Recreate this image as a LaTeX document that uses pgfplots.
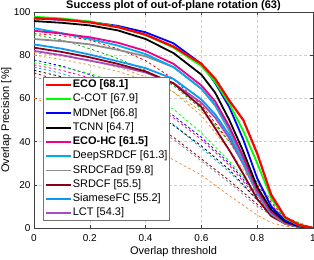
\documentclass[border=0pt]{standalone}
\usepackage{fontspec}
\setmainfont{Liberation Sans}
\usepackage{pgfplots}
\pgfplotsset{compat=1.18}
\definecolor{cGreen}{rgb}{0,1,0}
\definecolor{cDarkRed}{rgb}{0.55,0,0.1}
\definecolor{cSiam}{rgb}{0.05,0.6,0.95}
\definecolor{cLCT}{rgb}{0.65,0.3,0.75}
\definecolor{cOrange}{rgb}{1,0.55,0.2}
\definecolor{cTan}{rgb}{0.8,0.65,0.3}
\definecolor{cGray}{rgb}{0.55,0.55,0.55}
\begin{document}
\begin{tikzpicture}
\begin{axis}[
  name=ax, at={(0,0)}, anchor=south west,
  scale only axis, width=279pt, height=216pt,
  xmin=0, xmax=1, ymin=0, ymax=100,
  xtick={0,0.2,0.4,0.6,0.8,1}, ytick={0,20,40,60,80,100},
  /pgf/number format/assume math mode=true,
  tick label style={font=\fontsize{10}{12}\selectfont},
  xticklabel style={anchor=base, yshift=-13.5pt},
  tick align=inside, major tick length=3pt,
  tick style={black!75, line width=0.5pt},
  axis line style={black!75, line width=0.5pt},
  grid=major, major grid style={densely dashed, black!18, line width=0.4pt},
  title={Success plot of out-of-plane rotation (63)},
  title style={at={(rel axis cs:0.5,1)}, anchor=base, yshift=-2.3pt, font=\bfseries\fontsize{11}{13}\selectfont},
  xlabel={Overlap threshold},
  xlabel style={at={(rel axis cs:0.5,0)}, anchor=base, yshift=-27pt, font=\fontsize{11}{13}\selectfont},
  ylabel={Overlap Precision [\%]},
  ylabel style={at={(axis description cs:-0.1183,0.5)}, anchor=north, inner sep=0pt, font=\fontsize{11}{13}\selectfont},
  legend cell align=left,
  legend image code/.code={\draw[#1] (0pt,0pt) -- (25pt,0pt);},
  legend style={at={(rel axis cs:0.0323,0.0324)}, anchor=south west, draw=black!55, line width=0.6pt, fill=white, inner sep=1.5pt, row sep=2.26pt,
    nodes={inner sep=0.75pt, text height=8pt, text depth=2.5pt, font=\fontsize{11}{13}\selectfont}},
]
% dashed trackers (not in legend)
\addplot[forget plot, red, line width=0.8pt, dash pattern=on 2.5pt off 2.5pt] coordinates {(0,90)(0.1,89)(0.2,87)(0.3,83)(0.4,77.5)(0.5,69)(0.6,57)(0.7,40)(0.8,20)(0.9,4)(1,0)};
\addplot[forget plot, green!70!black, line width=0.8pt, dash pattern=on 2.5pt off 2.5pt] coordinates {(0,89.5)(0.1,87)(0.2,83)(0.3,78.5)(0.4,73)(0.5,66)(0.6,55)(0.7,40)(0.8,21)(0.9,5)(1,0)};
\addplot[forget plot, cOrange, line width=0.8pt, dash pattern=on 2.5pt off 2.5pt] coordinates {(0,81.2)(0.1,79.5)(0.2,77.5)(0.3,74.5)(0.4,70)(0.5,63)(0.6,52)(0.7,36)(0.8,18)(0.9,4)(1,0)};
\addplot[forget plot, cTan, line width=0.8pt, dash pattern=on 2.5pt off 2.5pt] coordinates {(0,80)(0.1,78)(0.2,75.5)(0.3,72.5)(0.4,68.5)(0.5,63)(0.6,54)(0.7,40)(0.8,21)(0.9,5)(1,0)};
\addplot[forget plot, blue, line width=0.8pt, dash pattern=on 2.5pt off 2.5pt] coordinates {(0,77.8)(0.1,75)(0.2,71)(0.3,66)(0.4,60)(0.5,52)(0.6,42)(0.7,30)(0.8,15)(0.9,3)(1,0)};
\addplot[forget plot, cGreen, line width=0.8pt, dash pattern=on 2.5pt off 2.5pt] coordinates {(0,76.5)(0.1,74.5)(0.2,71.5)(0.3,67.5)(0.4,62)(0.5,55)(0.6,44)(0.7,31)(0.8,16)(0.9,3)(1,0)};
\addplot[forget plot, magenta, line width=0.8pt, dash pattern=on 2.5pt off 2.5pt] coordinates {(0,75.5)(0.1,73)(0.2,69.5)(0.3,65)(0.4,59)(0.5,51)(0.6,41)(0.7,29)(0.8,14)(0.9,3)(1,0)};
\addplot[forget plot, cyan, line width=0.8pt, dash pattern=on 2.5pt off 2.5pt] coordinates {(0,74.5)(0.1,71.5)(0.2,67.5)(0.3,62.5)(0.4,56)(0.5,48)(0.6,37)(0.7,26)(0.8,13)(0.9,3)(1,0)};
\addplot[forget plot, black, line width=0.8pt, dash pattern=on 2.5pt off 2.5pt] coordinates {(0,73)(0.1,70)(0.2,66)(0.3,61)(0.4,55)(0.5,47.5)(0.6,38)(0.7,27)(0.8,13)(0.9,3)(1,0)};
\addplot[forget plot, cDarkRed, line width=0.8pt, dash pattern=on 2.5pt off 2.5pt] coordinates {(0,71.8)(0.1,68)(0.2,63)(0.3,57)(0.4,50)(0.5,42)(0.6,32)(0.7,22)(0.8,11)(0.9,2.5)(1,0)};
\addplot[forget plot, cGray, line width=0.8pt, dash pattern=on 2.5pt off 2.5pt] coordinates {(0,70)(0.1,66.5)(0.2,62)(0.3,56)(0.4,49)(0.5,41)(0.6,31)(0.7,21)(0.8,10)(0.9,2)(1,0)};
\addplot[forget plot, cOrange, line width=0.8pt, dash pattern=on 2.5pt off 2.5pt] coordinates {(0,60)(0.1,56)(0.2,51.5)(0.3,46)(0.4,39.5)(0.5,31.5)(0.6,24.5)(0.7,15)(0.8,6)(0.85,2.5)(0.9,0.8)(1,0)};
% solid trackers
\addplot[forget plot, cLCT, line width=1.8pt] coordinates {(0,82)(0.1,80)(0.2,77.5)(0.3,75)(0.4,72)(0.5,67)(0.6,58)(0.65,51)(0.7,41.5)(0.75,29.5)(0.8,16)(0.85,6.5)(0.9,2)(0.95,0.5)(1,0)};
\addplot[forget plot, cSiam, line width=1.8pt] coordinates {(0,85)(0.1,83)(0.2,80.3)(0.3,77.2)(0.4,74)(0.5,69)(0.6,59.5)(0.65,52.5)(0.7,43)(0.75,30)(0.8,16)(0.85,6.5)(0.9,2)(0.95,0.5)(1,0)};
\addplot[forget plot, cDarkRed, line width=1.8pt] coordinates {(0,83.5)(0.1,81.5)(0.2,79)(0.3,76)(0.4,72.5)(0.5,67)(0.6,56)(0.65,46)(0.7,36)(0.75,25)(0.8,13.5)(0.85,5.5)(0.9,2)(0.95,0.5)(1,0)};
\addplot[forget plot, cGray, line width=1.8pt] coordinates {(0,87.5)(0.1,86.5)(0.2,85)(0.3,82.5)(0.4,79.5)(0.5,74.5)(0.6,64.5)(0.65,56.5)(0.7,45)(0.75,31)(0.8,16)(0.85,6.5)(0.9,2)(0.95,0.5)(1,0)};
\addplot[forget plot, cyan, line width=1.8pt] coordinates {(0,92.5)(0.1,90.2)(0.2,87.5)(0.3,84.5)(0.4,80.5)(0.5,74.5)(0.6,64.5)(0.65,57)(0.7,46)(0.75,32)(0.8,17)(0.85,7)(0.9,2.5)(0.95,0.6)(1,0)};
\addplot[forget plot, magenta, line width=1.8pt] coordinates {(0,91.3)(0.1,90)(0.2,88.3)(0.3,85.8)(0.4,82)(0.5,76)(0.6,66)(0.65,58.5)(0.7,47)(0.75,33)(0.8,17.5)(0.85,7.5)(0.9,2.5)(0.95,0.6)(1,0)};
\addplot[forget plot, black, line width=1.8pt] coordinates {(0,95.8)(0.1,95)(0.2,93.8)(0.3,91.5)(0.4,87.5)(0.5,81)(0.6,71)(0.65,62.5)(0.7,50)(0.75,35.5)(0.8,19)(0.85,8.5)(0.9,3)(0.95,0.8)(1,0)};
\addplot[forget plot, blue, line width=1.8pt] coordinates {(0,97)(0.1,96.4)(0.2,95.4)(0.3,93.6)(0.4,90.6)(0.5,85.5)(0.6,76)(0.65,67)(0.7,56)(0.75,41)(0.8,23)(0.85,10)(0.9,3.5)(0.95,1)(1,0)};
\addplot[forget plot, cGreen, line width=1.8pt] coordinates {(0,97.8)(0.1,97)(0.2,95.6)(0.3,93.2)(0.4,89.3)(0.5,83.5)(0.6,75)(0.65,67.5)(0.7,57.5)(0.75,45)(0.8,30)(0.85,14)(0.9,4.5)(0.95,1.2)(1,0)};
\addplot[forget plot, red, line width=2.2pt] coordinates {(0,97.2)(0.1,96.5)(0.2,95.2)(0.3,93)(0.4,89.5)(0.5,84)(0.6,76)(0.65,69)(0.7,59)(0.75,50)(0.8,34.5)(0.85,15.5)(0.9,5)(0.95,1.4)(1,0)};
% legend
\addlegendimage{red, line width=2.2pt}\addlegendentry{\textbf{ECO [68.1]}}
\addlegendimage{cGreen, line width=1.8pt}\addlegendentry{C-COT [67.9]}
\addlegendimage{blue, line width=1.8pt}\addlegendentry{MDNet [66.8]}
\addlegendimage{black, line width=1.8pt}\addlegendentry{TCNN [64.7]}
\addlegendimage{magenta, line width=1.8pt}\addlegendentry{\textbf{ECO-HC [61.5]}}
\addlegendimage{cyan, line width=1.8pt}\addlegendentry{DeepSRDCF [61.3]}
\addlegendimage{cGray, line width=1.8pt}\addlegendentry{SRDCFad [59.8]}
\addlegendimage{cDarkRed, line width=1.8pt}\addlegendentry{SRDCF [55.5]}
\addlegendimage{cSiam, line width=1.8pt}\addlegendentry{SiameseFC [55.2]}
\addlegendimage{cLCT, line width=1.8pt}\addlegendentry{LCT [54.3]}
\end{axis}
\pgfresetboundingbox
\path (-34pt,-32pt) rectangle (280pt,228pt);
\end{tikzpicture}
\end{document}
